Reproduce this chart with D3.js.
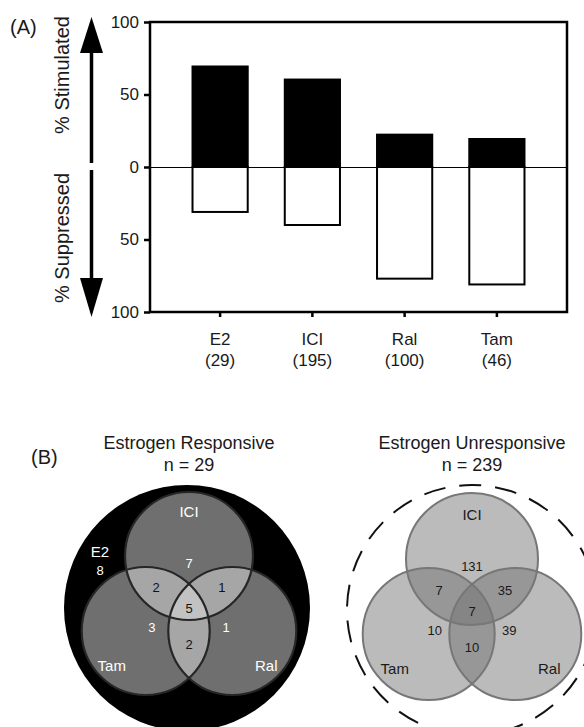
<!DOCTYPE html>
<html><head><meta charset="utf-8">
<script src="https://cdn.jsdelivr.net/npm/d3@7/dist/d3.min.js"></script>
<style>
html,body{margin:0;padding:0;background:#fff;}
svg{display:block;font-family:"Liberation Sans",Arial,Helvetica,sans-serif;}
</style></head>
<body>
<svg id="chart" width="584" height="727"></svg>
<script>
// ---- Panel A data ----
const categories = ["E2", "ICI", "Ral", "Tam"];
const counts = [29, 195, 100, 46];
const stimulated = [70, 61, 23, 20];
const suppressed = [31, 40, 77, 81];
const yTicks = [100, 50, 0, -50, -100];

// ---- Panel B data ----
const vennSets = ["ICI", "Tam", "Ral"];
const vennRegions = ["ICI", "ICI+Tam", "ICI+Ral", "ICI+Tam+Ral", "Tam", "Ral", "Tam+Ral"];
const responsiveCounts = [7, 2, 1, 5, 3, 1, 2];
const unresponsiveCounts = [131, 7, 35, 7, 10, 39, 10];
const responsiveTotal = 29, unresponsiveTotal = 239, e2Only = 8;

const svg = d3.select("#chart");
const ink = "#1a1a1a";

// ================= Panel A =================
const x0 = 150, x1 = 567, yTop = 22, yBot = 312;
const y = d3.scaleLinear().domain([-100, 100]).range([yBot, yTop]);
const x = d3.scaleBand().domain(categories).range([x0, x1]).paddingInner(0.38).paddingOuter(0.45);

const gA = svg.append("g");

// bars
gA.selectAll("rect.stim").data(categories).join("rect")
  .attr("x", d => x(d)).attr("width", x.bandwidth())
  .attr("y", (d, i) => y(stimulated[i])).attr("height", (d, i) => y(0) - y(stimulated[i]))
  .attr("fill", "#000");
gA.selectAll("rect.sup").data(categories).join("rect")
  .attr("x", d => x(d) + 1).attr("width", x.bandwidth() - 2)
  .attr("y", y(0)).attr("height", (d, i) => y(-suppressed[i]) - y(0))
  .attr("fill", "#fff").attr("stroke", "#000").attr("stroke-width", 2);

// zero line
gA.append("line").attr("x1", x0).attr("x2", x1).attr("y1", y(0) + 0.5).attr("y2", y(0) + 0.5)
  .attr("stroke", "#000").attr("stroke-width", 1.2);

// frame
gA.append("rect").attr("x", x0).attr("y", yTop).attr("width", x1 - x0).attr("height", yBot - yTop)
  .attr("fill", "none").attr("stroke", "#000").attr("stroke-width", 2.5);

// y axis
const yAxis = gA.append("g").attr("transform", `translate(${x0},0)`)
  .call(d3.axisLeft(y).tickValues(yTicks).tickFormat(d => Math.abs(d)).tickSize(6).tickPadding(5));
yAxis.select(".domain").remove();
yAxis.selectAll("line").attr("stroke", "#000").attr("stroke-width", 2.5);
yAxis.selectAll("text").attr("font-size", 17).attr("fill", ink).attr("font-family", "Liberation Sans, Arial, sans-serif");

// x axis
const xAxis = gA.append("g").attr("transform", `translate(0,${yBot})`)
  .call(d3.axisBottom(x).tickSize(5).tickFormat(""));
xAxis.select(".domain").remove();
xAxis.selectAll("line").attr("stroke", "#000").attr("stroke-width", 2.5);
gA.selectAll("text.xl").data(categories).join("text")
  .attr("x", d => x(d) + x.bandwidth() / 2).attr("y", yBot + 33)
  .attr("text-anchor", "middle").attr("font-size", 17).attr("fill", ink).text(d => d);
gA.selectAll("text.xc").data(categories).join("text")
  .attr("x", d => x(d) + x.bandwidth() / 2).attr("y", yBot + 54)
  .attr("text-anchor", "middle").attr("font-size", 17).attr("fill", ink).text((d, i) => `(${counts[i]})`);

// arrows
const ax = 91.5;
gA.append("line").attr("x1", ax).attr("x2", ax).attr("y1", 50).attr("y2", 163).attr("stroke", "#000").attr("stroke-width", 3.5);
gA.append("polygon").attr("points", `${ax-11.5},53 ${ax+11.5},53 ${ax},17`).attr("fill", "#000");
gA.append("line").attr("x1", ax).attr("x2", ax).attr("y1", 170).attr("y2", 282).attr("stroke", "#000").attr("stroke-width", 3.5);
gA.append("polygon").attr("points", `${ax-11.5},278 ${ax+11.5},278 ${ax},317`).attr("fill", "#000");

gA.append("text").attr("transform", `translate(69,75) rotate(-90)`).attr("text-anchor", "middle")
  .attr("font-size", 20).attr("fill", ink).text("% Stimulated");
gA.append("text").attr("transform", `translate(69,238) rotate(-90)`).attr("text-anchor", "middle")
  .attr("font-size", 20).attr("fill", ink).text("% Suppressed");
svg.append("text").attr("x", 10).attr("y", 34).attr("font-size", 20).attr("fill", ink).text("(A)");

// ================= Panel B =================
svg.append("text").attr("x", 31).attr("y", 464).attr("font-size", 20).attr("fill", ink).text("(B)");

const setAngle = {ICI: -90, Tam: 150, Ral: 30};
const labelAngle = {ICI: -90, Tam: 142, Ral: 38};
function polar(cx, cy, ang, dist) {
  const a = ang * Math.PI / 180;
  return [cx + dist * Math.cos(a), cy + dist * Math.sin(a)];
}
function regionPos(cx, cy, region) {
  const parts = region.split("+");
  if (parts.length === 3) return [cx, cy + 2];
  if (parts.length === 1) return polar(cx, cy, setAngle[parts[0]], 43);
  const missing = vennSets.find(s => !parts.includes(s));
  return polar(cx, cy, setAngle[missing] + 180, 38);
}

function drawVenn(opts) {
  const g = svg.append("g");
  const {cx, cy, d, r} = opts;
  const centers = vennSets.map(s => polar(cx, cy, setAngle[s], d));
  g.append("text").attr("x", cx).attr("y", 449).attr("text-anchor", "middle")
    .attr("font-size", 18).attr("fill", ink).text(opts.title);
  g.append("text").attr("x", cx).attr("y", 471).attr("text-anchor", "middle")
    .attr("font-size", 18).attr("fill", ink).text(`n = ${opts.total}`);
  opts.background(g);
  g.selectAll("circle.f").data(centers).join("circle")
    .attr("cx", c => c[0]).attr("cy", c => c[1]).attr("r", r)
    .attr("fill", opts.fill).attr("fill-opacity", opts.fillOpacity);
  g.selectAll("circle.s").data(centers).join("circle")
    .attr("cx", c => c[0]).attr("cy", c => c[1]).attr("r", r)
    .attr("fill", "none").attr("stroke", opts.stroke).attr("stroke-width", opts.strokeWidth);
  vennSets.forEach(s => {
    const p = polar(cx, cy, labelAngle[s], s === "ICI" ? 94 : 98);
    g.append("text").attr("x", p[0]).attr("y", p[1] + 5).attr("text-anchor", "middle")
      .attr("font-size", 15).attr("fill", opts.setLabelColor).text(s);
  });
  vennRegions.forEach((reg, i) => {
    const p = regionPos(cx, cy, reg);
    g.append("text").attr("x", p[0]).attr("y", p[1] + 4.5).attr("text-anchor", "middle")
      .attr("font-size", 13).attr("fill", opts.numColor(reg)).text(opts.values[i]);
  });
  return g;
}

// Estrogen responsive
const gL = drawVenn({
  cx: 189, cy: 606, d: 50, r: 64,
  title: "Estrogen Responsive", total: responsiveTotal,
  values: responsiveCounts,
  fill: "#dedede", fillOpacity: 0.5, stroke: "#262626", strokeWidth: 2.2,
  setLabelColor: "#fff",
  numColor: reg => reg.includes("+") ? "#111" : "#fff",
  background: g => g.append("circle").attr("cx", 187).attr("cy", 608).attr("r", 123).attr("fill", "#000")
});
gL.append("text").attr("x", 100).attr("y", 557).attr("text-anchor", "middle").attr("font-size", 15).attr("fill", "#fff").text("E2");
gL.append("text").attr("x", 100).attr("y", 575).attr("text-anchor", "middle").attr("font-size", 13).attr("fill", "#fff").text(e2Only);

// Estrogen unresponsive
drawVenn({
  cx: 472, cy: 609, d: 50, r: 66,
  title: "Estrogen Unresponsive", total: unresponsiveTotal,
  values: unresponsiveCounts,
  fill: "#707070", fillOpacity: 0.48, stroke: "#777", strokeWidth: 2,
  setLabelColor: ink,
  numColor: () => ink,
  background: g => g.append("circle").attr("cx", 472).attr("cy", 610).attr("r", 125)
    .attr("fill", "none").attr("stroke", "#111").attr("stroke-width", 2).attr("stroke-dasharray", "22,14")
});
</script>
</body></html>
